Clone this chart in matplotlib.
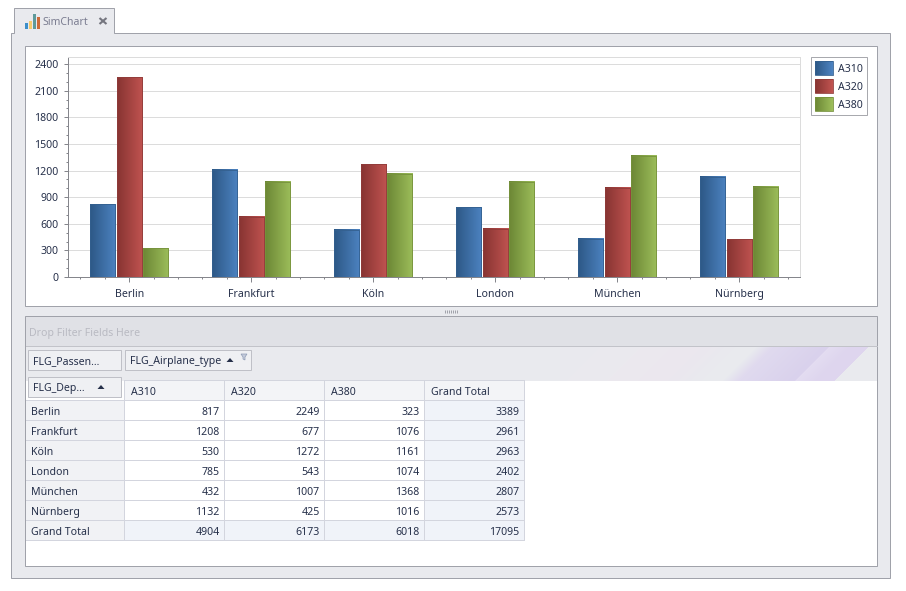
import numpy as np
import matplotlib
matplotlib.use("Agg")
import matplotlib.pyplot as plt
from matplotlib.colors import LinearSegmentedColormap, to_rgb
from matplotlib.legend_handler import HandlerBase
from matplotlib.patches import Rectangle, Polygon
from matplotlib.ticker import MultipleLocator

plt.rcParams['font.family'] = ['Noto Sans', 'DejaVu Sans']

cities = ["Berlin", "Frankfurt", "Köln", "London", "München", "Nürnberg"]
A310 = [817, 1208, 530, 785, 432, 1132]
A320 = [2249, 677, 1272, 543, 1007, 425]
A380 = [323, 1076, 1161, 1074, 1368, 1016]
grand_total_row = [3389, 2961, 2963, 2402, 2807, 2573]
grand_total_col = [4904, 6173, 6018, 17095]
series_names = ["A310", "A320", "A380"]
series_values = [A310, A320, A380]

grad = {"A310": ("#2d5886", "#4c82c0"),
        "A320": ("#873432", "#c05350"),
        "A380": ("#6c8735", "#9cbd5a")}
edges = {"A310": "#34608f", "A320": "#903c3a", "A380": "#76923c"}

TXT = "#26304a"
FS = 7.6
PX = 0.72  # one pixel, in points
W, H = 906, 591
fig = plt.figure(figsize=(W / 100, H / 100), dpi=100, facecolor="white")

# --- window chrome, in pixel coordinates
bg = fig.add_axes([0, 0, 1, 1], zorder=0)
bg.set_xlim(0, W)
bg.set_ylim(H, 0)
bg.axis("off")


def rect(x0, y0, x1, y1, fc, ec="none", lw=PX, z=1):
    bg.add_patch(Rectangle((x0, y0), x1 - x0, y1 - y0, fc=fc, ec=ec, lw=lw, zorder=z))


FRAME = "#a0a2aa"
rect(11, 33, 890, 578, "#e9eaee", FRAME)
# tab
bg.add_patch(Polygon([(14, 33), (14, 8), (114, 8), (114, 33)],
                     closed=False, fc="#e9eaee", ec=FRAME, lw=PX, zorder=2))
rect(15, 33, 114, 35, "#e9eaee", z=3)
for x0, top, c in [(25, 23, "#3d8fc9"), (29, 21, "#f6ca6c"), (33, 14, "#5f9a9a"), (37, 17, "#cc6b38")]:
    rect(x0, top, x0 + 3.3, 29, c, z=4)
bg.text(42.5, 22.4, "SimChart", fontsize=FS, color="#7a7c90", va="center", ha="left", zorder=4)
bg.plot([99.5, 106.5], [18, 24], color="#75767f", lw=1.5, zorder=4, solid_capstyle="butt")
bg.plot([99.5, 106.5], [24, 18], color="#75767f", lw=1.5, zorder=4, solid_capstyle="butt")
# chart panel
rect(25, 46, 877, 306, "white", FRAME)
# splitter grip
for x in range(445, 458, 2):
    bg.plot([x, x], [310, 313], color="#9a9ca4", lw=PX * 0.9, zorder=2, solid_capstyle="butt")
# pivot panel
rect(25, 316, 877, 566, "white", FRAME)
rect(26, 317, 877, 346, "#e0e1e6")
bg.plot([26, 877], [346, 346], color="#c2c3c9", lw=PX, zorder=2)
rect(26, 347, 877, 381, "#e9eaee")
# decorative swoosh of the banner
yy, xx = np.mgrid[347:381, 560:877]
u = xx + (yy - 347.0)
stops_u = [560, 640, 700, 735, 755, 772, 827, 829, 850, 867, 868, 900]
stops_c = ["#e9eaee", "#ebe9ee", "#ebe7ee", "#e9eaee", "#e9eaee", "#e0daef", "#d9d1ec", "#e3dcf1",
           "#ded5ee", "#dfd6ee", "#e9eaee", "#e9eaee"]
swoosh = np.stack([np.interp(u, stops_u, [to_rgb(c)[i] for c in stops_c]) for i in range(3)], axis=-1)
bg.imshow(swoosh, extent=(560, 877, 381, 347), aspect="auto", zorder=1.5, interpolation="bilinear")
bg.set_xlim(0, W)
bg.set_ylim(H, 0)
bg.text(29, 333.4, "Drop Filter Fields Here", fontsize=FS, color="#b9bac2", va="center", ha="left", zorder=3)


def field(x0, y0, x1, y1, label):
    rect(x0, y0, x1, y1, "#eff0f3", "#bfc0c7", z=4)
    bg.text(x0 + 5, (y0 + y1) / 2 + 1.9, label, fontsize=FS, color=TXT, va="center", ha="left", zorder=5)


def arrow(x, y):
    bg.add_patch(Polygon([(x - 3.5, y + 2), (x + 3.5, y + 2), (x, y - 2)], fc="#26304a", ec="none", zorder=5))


field(28, 350, 121, 370, "FLG_Passen…")
field(125, 350, 251, 370, "FLG_Airplane_type")
arrow(230, 360)
bg.add_patch(Polygon([(241, 354), (247, 354), (245, 357), (245, 360), (243, 359), (243, 357)],
                     fc="#c4cbdb", ec="#8e9bb4", lw=.5, zorder=5))
field(28, 377, 121, 397, "FLG_Dep…")
arrow(101, 387)

# --- pivot table
col_x = [26, 124, 224, 324, 424, 524]
row_y0 = 380
row_h = 20
TEXT_DY = 12.4
LINE = "#d3d5de"
headers = series_names + ["Grand Total"]
rows = list(zip(A310, A320, A380, grand_total_row))
row_labels = cities + ["Grand Total"]
rows.append(tuple(grand_total_col))
rect(124, 381, 524, 400, "#f3f4f7", z=2)
for j, h in enumerate(headers):
    x0 = col_x[j + 1]
    bg.text(x0 + 7, row_y0 + TEXT_DY, h, fontsize=FS, color=TXT, va="center", ha="left", zorder=5)
for i, (lab, vals) in enumerate(zip(row_labels, rows)):
    y0 = row_y0 + row_h * (i + 1)
    total_row = i == len(row_labels) - 1
    rect(26, y0, 124, y0 + row_h, "#f1f2f5", z=2)
    if total_row:
        rect(124, y0, 524, y0 + row_h, "#f0f3f9", z=2)
    else:
        rect(424, y0, 524, y0 + row_h, "#f0f3f9", z=2)
    bg.text(31, y0 + TEXT_DY, lab, fontsize=FS, color=TXT, va="center", ha="left", zorder=5)
    for j, v in enumerate(vals):
        bg.text(col_x[j + 2] - 4.5, y0 + TEXT_DY, str(v), fontsize=FS, color=TXT, va="center", ha="right", zorder=5)
for i in range(0, len(row_labels) + 1):
    y = row_y0 + row_h * (i + 1)
    bg.plot([26, 524], [y, y], color=LINE, lw=PX, zorder=3)
bg.plot([124, 524], [380, 380], color=LINE, lw=PX, zorder=3)
for x in col_x[1:]:
    bg.plot([x, x], [381, 540], color=LINE, lw=PX, zorder=3)
bg.set_xlim(0, W)
bg.set_ylim(H, 0)

# --- chart
L, T, R, B = 68.2, 57, 800.2, 277
ax = fig.add_axes([L / W, 1 - B / H, (R - L) / W, (B - T) / H], zorder=2)
ax.patch.set_alpha(0)
x = np.arange(len(cities))
bw = 0.205
step = 0.2175
for k, (name, vals) in enumerate(zip(series_names, series_values)):
    cmap = LinearSegmentedColormap.from_list(name, grad[name])
    bars = ax.bar(x + (k - 1) * step, vals, bw, facecolor=grad[name][1], edgecolor=edges[name],
                  linewidth=0.6, zorder=3, label=name)
    for b in bars:
        ax.imshow(np.linspace(0, 1, 64)[None, :], cmap=cmap, aspect="auto", zorder=2.9,
                  extent=(b.get_x(), b.get_x() + b.get_width(), 0, b.get_height()))
        b.set_facecolor("none")
ax.set_xlim(-0.5, 5.5)
ax.set_ylim(0, 2479)
ax.set_xticks(x, cities)
ax.xaxis.set_minor_locator(MultipleLocator(0.2))
ax.yaxis.set_major_locator(MultipleLocator(300))
ax.yaxis.set_minor_locator(MultipleLocator(100))
ax.grid(axis="y", which="major", color="#dcdcdc", lw=PX, zorder=0)
ax.set_axisbelow(True)
for s in ("top", "right"):
    ax.spines[s].set_color("#dcdcdc")
    ax.spines[s].set_linewidth(PX)
for s in ("left", "bottom"):
    ax.spines[s].set_color("#85868c")
    ax.spines[s].set_linewidth(PX)
ax.tick_params(axis="both", which="major", width=PX, color="#85868c", labelsize=FS, labelcolor=TXT)
ax.tick_params(axis="both", which="minor", length=1.5, width=PX, color="#85868c")
ax.tick_params(axis="x", which="major", length=3.5, pad=5.2)
ax.tick_params(axis="y", which="major", length=3, pad=4)


class GradHandler(HandlerBase):
    def __init__(self, colors, edge):
        super().__init__()
        self.colors = colors
        self.edge = edge

    def create_artists(self, legend, orig, xd, yd, width, height, fontsize, trans):
        a, b = np.array(to_rgb(self.colors[0])), np.array(to_rgb(self.colors[1]))
        n = 18
        arts = []
        for i in range(n):
            c = a + (b - a) * i / (n - 1)
            arts.append(Rectangle((-xd + width * i / n, -yd), width / n + .3, height,
                                  fc=c, ec="none", transform=trans))
        arts.append(Rectangle((-xd, -yd), width, height, fc="none", ec=self.edge, lw=.6, transform=trans))
        return arts


handles = ax.get_legend_handles_labels()[0]
hmap = {h: GradHandler(grad[n], edges[n]) for h, n in zip(handles, series_names)}
leg = ax.legend(handles, series_names, handler_map=hmap,
                loc="upper left", bbox_to_anchor=(811 / W, 1 - 57 / H), bbox_transform=fig.transFigure,
                fontsize=FS, frameon=True, fancybox=False, framealpha=1, edgecolor="#a8a9ae",
                borderpad=0.38, borderaxespad=0, handlelength=1.7, handleheight=1.6,
                handletextpad=0.47, labelspacing=0.42, labelcolor=TXT)
leg.get_frame().set_linewidth(PX)
for t in leg.get_texts():
    t.set_y(-1)

fig.savefig("out.png", dpi=100)
